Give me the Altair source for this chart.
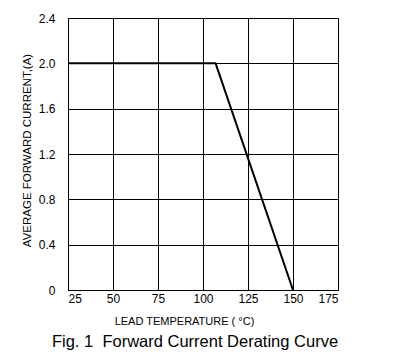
import altair as alt
import pandas as pd

temps = [25, 107, 150]
current = [2.0, 2.0, 0.0]
x_ticks = [25, 50, 75, 100, 125, 150, 175]
y_ticks = [0, 0.4, 0.8, 1.2, 1.6, 2.0, 2.4]

df = pd.DataFrame({"t": temps, "i": current})

FONT = "Liberation Sans"

chart = alt.Chart(df).mark_line(color="black", strokeWidth=2).encode(
    x=alt.X("t:Q",
            scale=alt.Scale(domain=[25, 175], nice=False, zero=False),
            axis=alt.Axis(values=x_ticks, title="LEAD TEMPERATURE ( °C)",
                          titleFontSize=11, titleFontWeight="normal",
                          titleX=116, titleY=25, titleColor="black",
                          labelFontSize=12, labelPadding=3, labelColor="black",
                          ticks=False, grid=True, gridColor="black", gridOpacity=1,
                          gridWidth=1, domainColor="black", labelFont=FONT, titleFont=FONT)),
    y=alt.Y("i:Q",
            scale=alt.Scale(domain=[0, 2.4], nice=False),
            axis=alt.Axis(values=y_ticks, title="AVERAGE FORWARD CURRENT,(A)",
                          labelExpr="datum.value == 0 ? '0' : format(datum.value, '.1f')",
                          titleFontSize=11.5, titleFontWeight="normal",
                          titleX=-41, titleY=132, titleBaseline="middle", titleColor="black",
                          labelFontSize=12, labelPadding=13, labelColor="black",
                          ticks=False, grid=True, gridColor="black", gridOpacity=1,
                          gridWidth=1, domainColor="black", labelFont=FONT, titleFont=FONT)),
).properties(
    width=270, height=272,
    autosize=alt.AutoSizeParams(type="none"),
    padding={"left": 60, "top": 10, "right": 74, "bottom": 68},
    title=alt.TitleParams("Fig. 1\u00a0\u00a0Forward Current Derating Curve", orient="bottom",
                          fontSize=16.5, fontWeight="normal", font=FONT, color="black",
                          anchor="middle", dx=-8, offset=8),
).configure_view(stroke="black", strokeWidth=1).configure(background="white")

chart.save("out.html", embed_options={"renderer": "svg", "actions": False})
